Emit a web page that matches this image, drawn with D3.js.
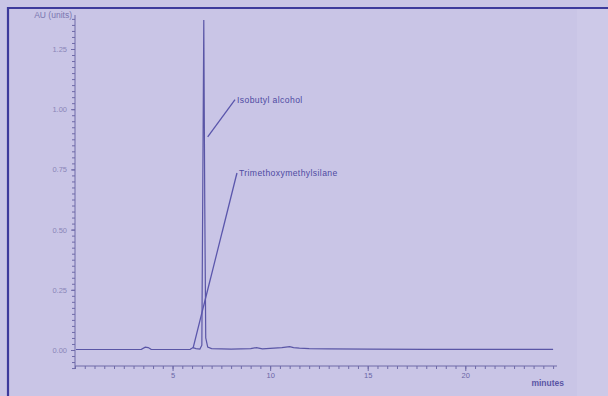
<!DOCTYPE html>
<html><head><meta charset="utf-8">
<script src="https://cdn.jsdelivr.net/npm/d3@7"></script>
<style>body{margin:0;background:#c9c5e6;}svg{display:block;}</style>
</head><body><svg id="c" width="608" height="396"></svg>
<script>
// chromatogram trace (minutes, signal)
const times   = [0.05, 2.0, 3.4, 3.6, 3.75, 3.9, 5.0, 5.9, 6.05, 6.2, 6.4, 6.5, 6.55, 6.6, 6.65, 6.7, 6.8, 7.0, 8.0, 9.0, 9.3, 9.6, 10.0, 10.6, 11.0, 11.2, 11.5, 12.0, 13.0, 15.0, 18.0, 21.0, 24.5];
const signal  = [0.002, 0.002, 0.003, 0.012, 0.010, 0.003, 0.002, 0.003, 0.010, 0.006, 0.004, 0.02, 0.7, 1.37, 0.6, 0.05, 0.012, 0.006, 0.004, 0.006, 0.010, 0.005, 0.007, 0.010, 0.014, 0.010, 0.008, 0.006, 0.005, 0.004, 0.003, 0.003, 0.003];
const yTicks  = [0, 0.25, 0.5, 0.75, 1.0, 1.25];
const yTickLabels = ["0.00", "0.25", "0.50", "0.75", "1.00", "1.25"];
const xTicks  = [5, 10, 15, 20];
const xTickLabels = ["5", "10", "15", "20"];
const peakNames = ["Isobutyl alcohol", "Trimethoxymethylsilane"];
const peakFrom  = [[6.8, 0.885], [6.05, 0.008]];   // leader start (min, signal)
const peakTo    = [[8.2, 1.04], [8.3, 0.735]];     // leader end  (min, signal)
const yTitle = "AU (units)";
const xTitle = "minutes";

const svg = d3.select("#c");
const x = d3.scaleLinear().domain([0, 24.7]).range([75, 557]);
const y = d3.scaleLinear().domain([0, 1.25]).range([350, 49]);
const font = "Liberation Sans, Arial, sans-serif";

// frame
svg.append("line").attr("x1", 8).attr("x2", 608).attr("y1", 8).attr("y2", 8)
  .attr("stroke", "#3d3a9c").attr("stroke-width", 2.2);
svg.append("line").attr("x1", 8).attr("x2", 8).attr("y1", 7).attr("y2", 396)
  .attr("stroke", "#3d3a9c").attr("stroke-width", 2.2);
svg.append("rect").attr("x", 577).attr("y", 9).attr("width", 31).attr("height", 387)
  .attr("fill", "#cdc9e8");

const tickCol = "#6f6aa8", labCol = "#8a86b8";

// y axis
const yAxis = d3.axisLeft(y).tickValues(yTicks).tickFormat((d, i) => yTickLabels[i]).tickSize(4);
const yMinor = d3.axisLeft(y).tickValues(d3.range(-0.075, 1.39, 0.025)).tickFormat("").tickSize(3);
const ga = svg.append("g").attr("transform", "translate(75,0)");
ga.append("g").call(yMinor);
ga.append("g").call(yAxis);
ga.selectAll(".domain").remove();
ga.append("line").attr("x1", 0).attr("x2", 0).attr("y1", 15).attr("y2", 369).attr("stroke", tickCol);
ga.selectAll("line").attr("stroke", tickCol);
ga.selectAll("text").attr("fill", labCol).attr("font-family", font).attr("font-size", 7.5).attr("dx", -1);

// x axis
const xAxis = d3.axisBottom(x).tickValues(xTicks).tickFormat((d, i) => xTickLabels[i]).tickSize(5).tickPadding(2);
const xMinor = d3.axisBottom(x).tickValues(d3.range(0, 24.6, 0.5)).tickFormat("").tickSize(3);
const gx = svg.append("g").attr("transform", "translate(0,366)");
gx.append("g").call(xMinor);
gx.append("g").call(xAxis);
gx.selectAll(".domain").remove();
gx.append("line").attr("x1", 75).attr("x2", 557).attr("y1", 0).attr("y2", 0).attr("stroke", tickCol);
gx.selectAll("line").attr("stroke", tickCol);
gx.selectAll("text").attr("fill", "#6a66a6").attr("font-family", font).attr("font-size", 7.5);

// titles
svg.append("text").attr("x", 72).attr("y", 18).attr("text-anchor", "end")
  .attr("font-family", font).attr("font-size", 8.5).attr("fill", "#7a76b0").text(yTitle);
svg.append("text").attr("x", 564).attr("y", 386).attr("text-anchor", "end")
  .attr("font-family", font).attr("font-size", 8.5).attr("font-weight", "bold").attr("fill", "#5a55a5").text(xTitle);

// trace
const line = d3.line().x((d, i) => x(times[i])).y(d => y(d));
svg.append("path").datum(signal).attr("d", line)
  .attr("fill", "none").attr("stroke", "#5a56a6").attr("stroke-width", 1.2);

// annotations
peakNames.forEach((n, i) => {
  svg.append("line")
    .attr("x1", x(peakFrom[i][0])).attr("y1", y(peakFrom[i][1]))
    .attr("x2", x(peakTo[i][0])).attr("y2", y(peakTo[i][1]))
    .attr("stroke", "#5a56ac").attr("stroke-width", 1.3);
  svg.append("text").attr("x", x(peakTo[i][0]) + 2).attr("y", y(peakTo[i][1]) + 3)
    .attr("font-family", font).attr("font-size", 8.6).attr("letter-spacing", 0.4)
    .attr("fill", "#4e4aa2").text(n);
});
</script></body></html>
